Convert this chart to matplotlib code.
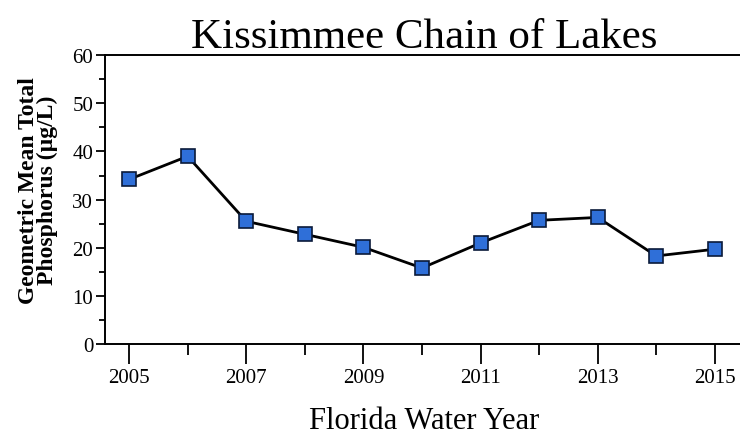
import matplotlib
matplotlib.use("Agg")
import matplotlib.pyplot as plt
from matplotlib.ticker import MultipleLocator

years = [2005, 2006, 2007, 2008, 2009, 2010, 2011, 2012, 2013, 2014, 2015]
tp = [34.2, 39.0, 25.5, 22.8, 20.1, 15.8, 21.0, 25.7, 26.3, 18.3, 19.7]
labeled_years = [2005, 2007, 2009, 2011, 2013, 2015]
minor_years = [2006, 2008, 2010, 2012, 2014]

plt.rcParams['font.family'] = ['Liberation Serif', 'DejaVu Serif']

fig = plt.figure(figsize=(7.40, 4.39), dpi=100)
ax = fig.add_axes([0.142, 0.214, 0.858, 0.658])

ax.plot(years, tp, color='black', lw=2, marker='s', markersize=10,
        markerfacecolor='#2f6fd8', markeredgecolor='#0a1a3a', markeredgewidth=1.2, zorder=3)

ax.set_xlim(2004.59, 2015.43)
ax.set_ylim(0, 60)
ax.set_xticks(labeled_years)
ax.set_xticklabels([str(y) for y in labeled_years])
ax.set_xticks(minor_years, minor=True)
ax.yaxis.set_major_locator(MultipleLocator(10))
ax.yaxis.set_minor_locator(MultipleLocator(5))
ax.tick_params(axis='both', which='major', direction='out', width=1.3, labelsize=15, colors='black')
ax.tick_params(axis='y', which='major', length=6.5, pad=2)
ax.tick_params(axis='y', which='minor', direction='out', length=4.3, width=1.3)
ax.tick_params(axis='x', which='major', length=14.5, pad=3)
ax.tick_params(axis='x', which='minor', direction='out', length=8, width=1.3)
ax.spines['right'].set_visible(False)
for s in ['left', 'bottom', 'top']:
    ax.spines[s].set_linewidth(1.4)

fig.text(0.573, 0.891, 'Kissimmee Chain of Lakes', ha='center', va='baseline', fontsize=31)
fig.text(0.573, 0.006, 'Florida Water Year', ha='center', va='bottom', fontsize=22)
fig.text(0.051, 0.567, 'Geometric Mean Total\nPhosphorus (\u00b5g/L)', ha='center', va='center',
         rotation=90, fontsize=17, fontweight='bold', linespacing=0.85)

fig.savefig('out.png', dpi=100)
